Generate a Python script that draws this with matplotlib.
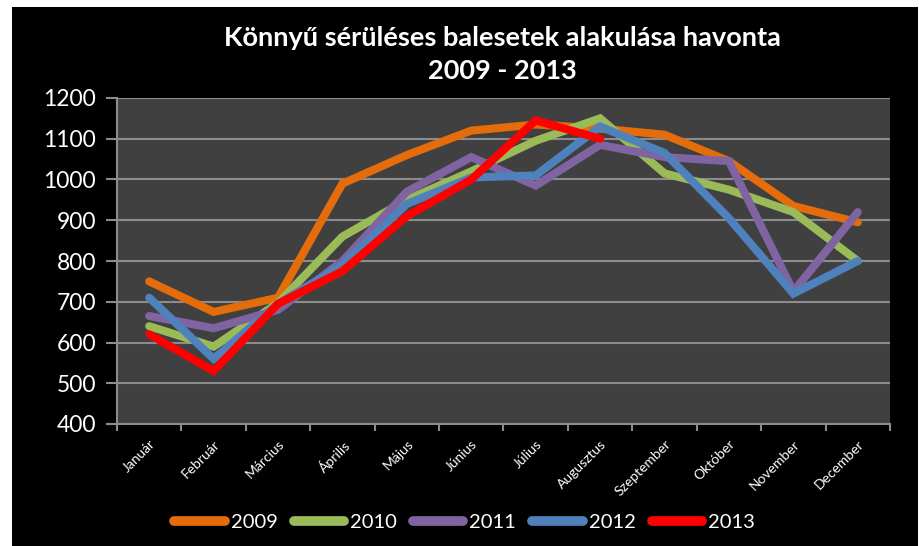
import matplotlib.pyplot as plt
from matplotlib.patches import Rectangle
from matplotlib.ticker import FixedLocator

# ---- Data ----
months = ["Január", "Február", "Március", "Április", "Május", "Június",
          "Július", "Augusztus", "Szeptember", "Október", "November", "December"]

y2009 = [750, 675, 710, 990, 1060, 1120, 1135, 1125, 1110, 1045, 935, 895]
y2010 = [640, 590, 697, 860, 950, 1020, 1095, 1150, 1015, 975, 920, 800]
y2011 = [665, 635, 680, 800, 970, 1055, 985, 1085, 1055, 1045, 725, 920]
y2012 = [710, 560, 695, 790, 940, 1005, 1010, 1130, 1065, 905, 720, 800]
y2013 = [620, 530, 695, 775, 910, 1000, 1145, 1100]

series = [
    ("2009", y2009, "#E46C0A"),
    ("2010", y2010, "#9BBB59"),
    ("2011", y2011, "#8064A2"),
    ("2012", y2012, "#4F81BD"),
    ("2013", y2013, "#FF0000"),
]

plt.rcParams['font.family'] = ['Lato', 'DejaVu Sans']

fig = plt.figure(figsize=(9.2, 5.46), dpi=100)
fig.patch.set_facecolor('white')
# black chart area with a thin white margin at left/top/right
fig.patches.append(Rectangle((12 / 920, 0), (918 - 12) / 920, (546 - 7) / 546,
                             transform=fig.transFigure, facecolor='black',
                             edgecolor='none', zorder=-5))

ax = fig.add_axes([117 / 920, 122 / 546, 773 / 920, 326 / 546])
ax.set_facecolor('#404040')

for label, vals, color in series:
    ax.plot(range(len(vals)), vals, color=color, linewidth=5.8,
            solid_capstyle='round', solid_joinstyle='miter', label=label, zorder=3)

ax.set_xlim(-0.5, 11.5)
ax.set_ylim(400, 1200)
ax.set_yticks(range(400, 1201, 100))
ax.yaxis.grid(True, color='#8C8C8C', linewidth=1.5)
ax.set_axisbelow(True)

ax.set_xticks(range(12))
ax.set_xticklabels(months, rotation=45, ha='right', va='top',
                   rotation_mode='anchor', color='white', fontsize=10)
ax.xaxis.set_minor_locator(FixedLocator([i - 0.5 for i in range(13)]))
ax.tick_params(axis='x', which='major', length=0, pad=10)
ax.tick_params(axis='x', which='minor', length=5, width=1.5, color='#8C8C8C')
ax.tick_params(axis='y', length=8, width=1.5, color='#8C8C8C',
               labelcolor='white', labelsize=16.5, pad=7)

for side in ['top', 'right']:
    ax.spines[side].set_visible(False)
for side in ['left', 'bottom']:
    ax.spines[side].set_color('#8C8C8C')
    ax.spines[side].set_linewidth(1.5)

fig.text(0.5457, 1 - 38 / 546, "Könnyű sérüléses balesetek alakulása havonta",
         ha='center', va='center', color='white', fontsize=19.5, fontweight='bold')
fig.text(0.5457, 1 - 71 / 546, "2009 - 2013",
         ha='center', va='center', color='white', fontsize=19.5, fontweight='bold')

leg = fig.legend(loc='center', bbox_to_anchor=(0.505, 1 - 522 / 546), ncol=5,
                 frameon=False, fontsize=14.5, handlelength=2.5, handletextpad=0.3,
                 columnspacing=0.8, labelcolor='white')
for h in leg.legend_handles:
    h.set_linewidth(7)
    h.set_solid_capstyle('round')

fig.savefig('out.png', dpi=100, facecolor=fig.get_facecolor())
